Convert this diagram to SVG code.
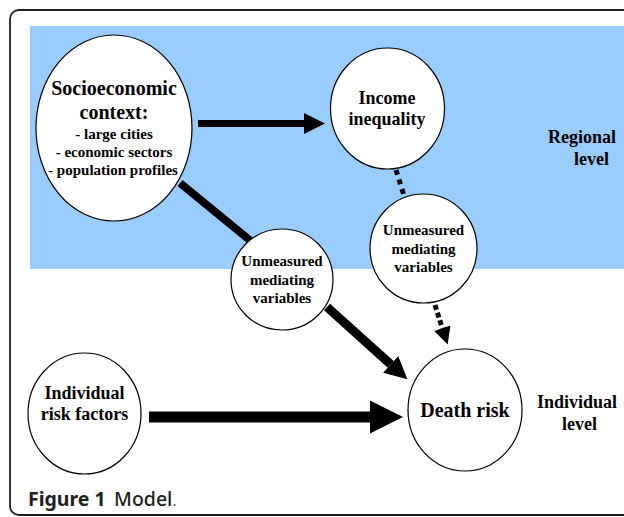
<svg xmlns="http://www.w3.org/2000/svg" width="624" height="517" viewBox="0 0 624 517">
<style>
.node ellipse{fill:#fff;stroke:#000;stroke-width:1.2}
.t{font-family:"Liberation Serif","Times New Roman",serif;font-weight:bold;fill:#000;text-anchor:middle}
.lbl{font-family:"Liberation Serif","Times New Roman",serif;font-weight:bold;fill:#000}
.conn line{stroke:#000;fill:none}
.cap{font-family:"Noto Sans","Open Sans",sans-serif;fill:#231f20;font-size:19.5px}
</style>
<defs>
<marker id="m3" viewBox="0 0 10 10" refX="0" refY="5" markerWidth="3" markerHeight="3" orient="auto" markerUnits="strokeWidth"><path d="M0,0L10,5L0,10z" fill="#000"/></marker>
<marker id="m25" viewBox="0 0 10 10" refX="0" refY="5" markerWidth="2.5" markerHeight="2.7" orient="auto" markerUnits="strokeWidth"><path d="M0,0L10,5L0,10z" fill="#000"/></marker>
<marker id="m36" viewBox="0 0 10 10" refX="0" refY="5" markerWidth="3.6" markerHeight="3.4" orient="auto" markerUnits="strokeWidth"><path d="M0,0L10,5L0,10z" fill="#000"/></marker>
</defs>
<rect x="10" y="10" width="640" height="505" rx="9" fill="#fff" stroke="#231f20" stroke-width="1.8"/>
<rect id="regional-band" x="30" y="26" width="600" height="243" fill="#99ccff"/>
<g id="connectors" class="conn">
<line x1="198" y1="123.5" x2="304" y2="123.5" stroke-width="7" marker-end="url(#m3)"/>
<line x1="180" y1="183" x2="252" y2="242" stroke-width="8"/>
<line x1="396" y1="170" x2="405" y2="199" stroke-width="5" stroke-dasharray="5,5"/>
<line x1="327" y1="307" x2="390.7" y2="364.3" stroke-width="9" marker-end="url(#m25)"/>
<line x1="435" y1="305" x2="442.2" y2="328" stroke-width="5" stroke-dasharray="5,3"/>
<line x1="442.2" y1="328" x2="442.3" y2="328.3" stroke-width="5" marker-end="url(#m36)"/>
<line x1="149" y1="417" x2="370" y2="417" stroke-width="11" marker-end="url(#m3)"/>
</g>
<g id="socioeconomic" class="node">
<ellipse cx="114" cy="128" rx="78" ry="93"/>
<text class="t" x="114" y="95" font-size="20">Socioeconomic</text>
<text class="t" x="114" y="119" font-size="20">context:</text>
<text class="t" x="114" y="139" font-size="15">- large cities</text>
<text class="t" x="114" y="157" font-size="15">- economic sectors</text>
<text class="t" x="113" y="175" font-size="15">- population profiles</text>
</g>
<g id="income" class="node">
<ellipse cx="387.5" cy="108.5" rx="57" ry="60.5"/>
<text class="t" x="387" y="104" font-size="18">Income</text>
<text class="t" x="387" y="125" font-size="18">inequality</text>
</g>
<g id="unmeasured-regional" class="node">
<ellipse cx="423.5" cy="248.5" rx="53.5" ry="54.5"/>
<text class="t" x="423.5" y="235" font-size="15">Unmeasured</text>
<text class="t" x="423.5" y="253.5" font-size="15">mediating</text>
<text class="t" x="423.5" y="272" font-size="15">variables</text>
</g>
<g id="unmeasured-context" class="node">
<ellipse cx="282" cy="279.5" rx="51" ry="50.5"/>
<text class="t" x="282" y="266" font-size="15">Unmeasured</text>
<text class="t" x="282" y="284.5" font-size="15">mediating</text>
<text class="t" x="282" y="303" font-size="15">variables</text>
</g>
<g id="individual-risk" class="node">
<ellipse cx="84.5" cy="413.5" rx="56.5" ry="60.5"/>
<text class="t" x="84.5" y="399" font-size="18">Individual</text>
<text class="t" x="84.5" y="420" font-size="18">risk factors</text>
</g>
<g id="death-risk" class="node">
<ellipse cx="465" cy="410" rx="57" ry="61"/>
<text class="t" x="465" y="417" font-size="20">Death risk</text>
</g>
<g id="level-labels">
<text class="lbl" x="548" y="143" font-size="18">Regional</text>
<text class="lbl" x="574" y="165" font-size="18">level</text>
<text class="lbl" x="537" y="408" font-size="18">Individual</text>
<text class="lbl" x="562" y="430" font-size="18">level</text>
</g>
<text class="cap" x="28" y="506"><tspan font-weight="bold">Figure 1</tspan><tspan x="114" font-weight="500">Model</tspan><tspan fill="#666" font-size="15">.</tspan></text>
</svg>
